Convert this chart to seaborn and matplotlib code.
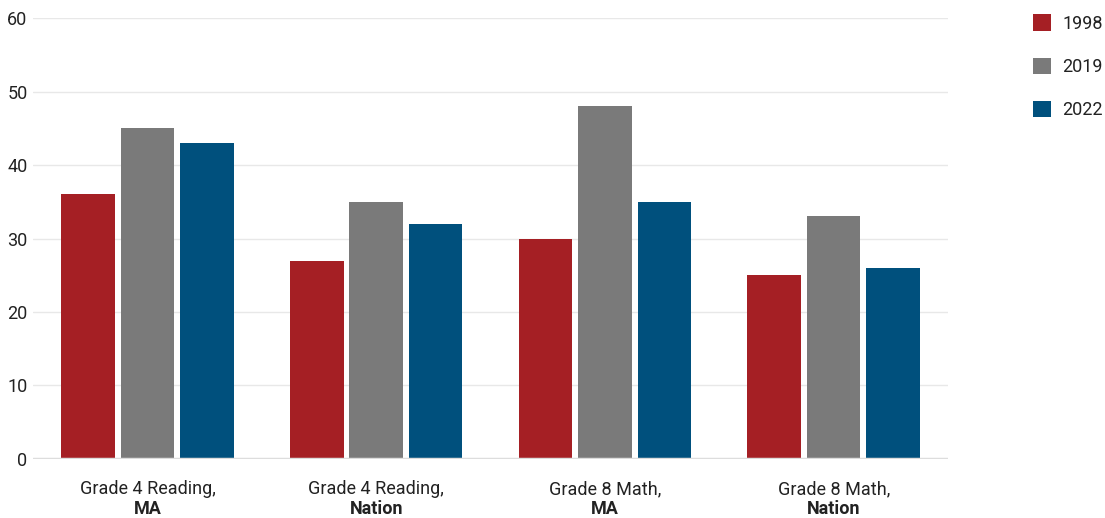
import matplotlib
matplotlib.use("Agg")
import matplotlib.pyplot as plt
from matplotlib.patches import Patch
import seaborn as sns
import pandas as pd

# Data
groups = ["Grade 4 Reading", "Grade 4 Reading", "Grade 8 Math", "Grade 8 Math"]
scopes = ["MA", "Nation", "MA", "Nation"]
years = ["1998", "2019", "2022"]
values_1998 = [36, 27, 30, 25]
values_2019 = [45, 35, 48, 33]
values_2022 = [43, 32, 35, 26]
y_ticks = [0, 10, 20, 30, 40, 50, 60]

colors = ["#A51F24", "#7A7A7A", "#00507D"]

categories = [f"{g}|{s}" for g, s in zip(groups, scopes)]
rows = []
for yr, vals in zip(years, [values_1998, values_2019, values_2022]):
    for c, v in zip(categories, vals):
        rows.append({"category": c, "year": yr, "value": v})
df = pd.DataFrame(rows)

sns.set_theme(style="white")
plt.rcParams["font.family"] = ["Roboto", "DejaVu Sans"]

fig = plt.figure(figsize=(11.05, 5.18), dpi=100)
ax = fig.add_axes([0.03, 0.114, 0.828, 0.851])

sns.barplot(data=df, x="category", y="value", hue="year", order=categories,
            hue_order=years, palette=colors, width=0.78, gap=0.1,
            saturation=1, linewidth=0, ax=ax, legend=False)

ax.set_ylim(0, 60)
ax.set_xlim(-0.5, 3.5)
ax.set_yticks(y_ticks)
ax.set_yticklabels([str(t) for t in y_ticks], fontsize=13, color="#222222")
for t in y_ticks[1:]:
    ax.axhline(t, color="#E8E8E8", lw=1, zorder=0)
ax.axhline(0, color="#DDDDDD", lw=2.5, zorder=3)
ax.tick_params(axis="y", length=0, pad=4)
ax.tick_params(axis="x", length=0)
for s in ax.spines.values():
    s.set_visible(False)
ax.set_xlabel("")
ax.set_ylabel("")

ax.set_xticks(range(len(categories)))
ax.set_xticklabels([])
for i, (g, s) in enumerate(zip(groups, scopes)):
    ax.text(i, -0.048, g + ",", transform=ax.get_xaxis_transform(),
            ha="center", va="top", fontsize=13, color="#222222")
    ax.text(i, -0.092, s, transform=ax.get_xaxis_transform(),
            ha="center", va="top", fontsize=13, fontweight="bold", color="#222222")

handles = [Patch(facecolor=c, edgecolor="none") for c in colors]
fig.legend(handles, years, loc="upper right", bbox_to_anchor=(1.011, 1.0),
           frameon=False, fontsize=13, handlelength=1.0, handleheight=1.0,
           labelspacing=1.38, handletextpad=0.6, borderpad=0.3,
           labelcolor="#222222")

fig.savefig("out.png", dpi=100)
